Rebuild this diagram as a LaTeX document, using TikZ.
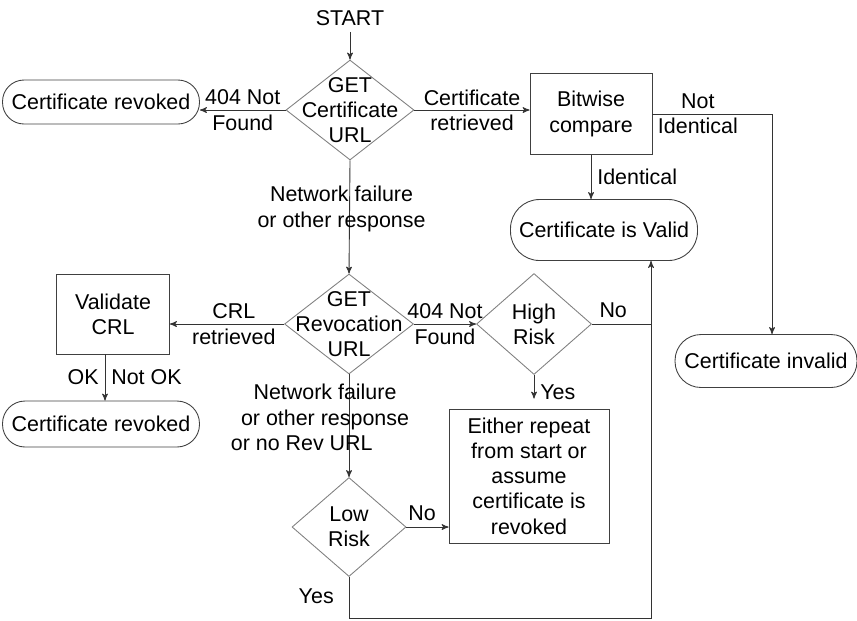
\documentclass[tikz,border=0pt]{standalone}
\usepackage{fontspec}
\setmainfont{Liberation Sans}
\usetikzlibrary{arrows,shapes.geometric,positioning}

\begin{document}
\begin{tikzpicture}[x=0.02cm,y=-0.02cm,->,>=stealth',line width=0.5pt,black!80,text=black,font=\fontsize{12.2}{14.4}\selectfont]
  \tikzstyle{decision}=[diamond,draw=black!50,inner sep=0pt,label={[align=center]center:#1}]
  \tikzstyle{block}=[rectangle,draw=black!75,align=center]
  \tikzstyle{terminal}=[rectangle,rounded corners=0.43cm,draw=black!75,minimum height=0.88cm,minimum width=3.94cm]
\useasboundingbox (0,0) rectangle (857,620);
\node (start) at (350,18) {START};
\node[decision={GET\\Certificate\\URL},minimum width=2.56cm,minimum height=2cm] (getcert) at (350,110) {};
\node[terminal] (revoked1) at (101,102) {Certificate revoked};
\node[block,minimum width=2.44cm,minimum height=1.62cm] (bitwise) at (591,114) {Bitwise\\compare};
\node[terminal,rounded corners=0.58cm,minimum width=3.74cm,minimum height=1.22cm] (valid) at (604,230) {Certificate is Valid};
\node[terminal,rounded corners=0.52cm,minimum width=3.64cm,minimum height=1.06cm] (invalid) at (766,361) {Certificate invalid};
\node[decision={GET\\Revocation\\URL},minimum width=2.58cm,minimum height=2cm] (getrev) at (349,324) {};
\node[block,minimum width=2.26cm,minimum height=1.6cm] (validate) at (113,314) {Validate\\CRL};
\node[terminal,rounded corners=0.45cm,minimum height=0.92cm] (revoked2) at (101,424) {Certificate revoked};
\node[decision={High\\Risk},minimum width=2.3cm,minimum height=2.02cm] (highrisk) at (534,324) {};
\node[block,minimum width=3.2cm,minimum height=2.68cm] (either) at (529,476) {Either repeat\\from start or\\assume\\certificate is\\revoked};
\node[decision={Low\\Risk},minimum width=2.28cm,minimum height=1.98cm] (lowrisk) at (349,527) {};
\coordinate (corner) at (651,618);
\path
(start) edge (getcert)
(getcert.west) edge node[align=center] {404 Not\\Found} (getcert.west -| revoked1.east)
(getcert.east) edge node[align=center] {Certificate\\retrieved} (getcert.east -| bitwise.west)
(bitwise.south) edge node[right] {Identical} (bitwise.south |- valid.north)
(getcert.south) edge node[pos=0.43,xshift=-0.16cm,align=center] {Network failure\\or other response} (getrev.north)
(getrev.west) edge node[pos=0.44,align=center] {CRL\\retrieved} (getrev.west -| validate.east)
([xshift=-0.16cm]validate.south) edge node[left] {OK} node[right] {Not OK} ([xshift=-0.16cm]validate.south |- revoked2.north)
(getrev.east) edge node[align=center] {404 Not\\Found} (highrisk.west)
(highrisk.south) edge[shorten >=0.2cm] node[right] {Yes} (highrisk.south |- either.north)
(getrev.south) edge node[pos=0.42,xshift=-0.48cm,align=center] {Network failure\\or other response\\or no Rev URL\hspace*{0.93cm}} (lowrisk.north)
(lowrisk.east) edge node[above,pos=0.37] {No} (lowrisk.east -| either.west);
\draw (bitwise.east) -| node[pos=0.19,align=center] {Not\\Identical} ([xshift=0.12cm]invalid.north);
\draw[-] (highrisk.east) -- node[above,pos=0.36] {No} (highrisk.east -| corner);
\draw (lowrisk.south) |- node[pos=0.24,left,xshift=-0.18cm] {Yes} (corner) -- (corner |- valid.south);
\end{tikzpicture}
\end{document}
